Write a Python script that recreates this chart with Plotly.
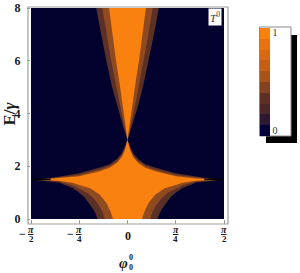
import numpy as np
import plotly.graph_objects as go

PI = np.pi

# ---------------- data ----------------
# upper cone (half-widths in phi, symmetric about 0)
cone_E      = [3.0, 3.5, 4.15, 5.0, 6.06, 7.0, 8.0]
cone_fringe = [0.0, 0.07, 0.155, 0.25, 0.35, 0.43, 0.51]
cone_mid    = [0.0, 0.05, 0.11, 0.18, 0.27, 0.34, 0.41]
cone_core   = [0.0, 0.03, 0.065, 0.12, 0.19, 0.245, 0.30]

# lower star, left half, upper boundary (from tip outwards)
star_up_phi    = [0.0, -0.04, -0.09, -0.17, -0.29, -0.45, -0.785, -1.12, -1.35, -1.571]
star_up_fringe = [3.0, 2.76, 2.50, 2.28, 2.08, 1.95, 1.73, 1.60, 1.53, 1.50]
star_up_mid    = [3.0, 2.70, 2.43, 2.20, 2.01, 1.88, 1.67, 1.57, 1.52, 1.50]
star_up_core   = [3.0, 2.63, 2.36, 2.13, 1.94, 1.81, 1.62, 1.54, 1.51, 1.50]

# lower star, left half, lower boundary (from phi=-pi/2 down to E=0)
star_lo_fringe_phi = [-1.571, -1.12, -0.90, -0.785, -0.70, -0.63, -0.56, -0.51, -0.49]
star_lo_fringe_E   = [1.50, 1.38, 1.18, 1.00, 0.82, 0.62, 0.38, 0.16, 0.0]
star_lo_mid_phi    = [-1.571, -1.12, -0.90, -0.785, -0.66, -0.55, -0.46, -0.40, -0.37]
star_lo_mid_E      = [1.50, 1.42, 1.28, 1.16, 1.00, 0.78, 0.50, 0.22, 0.0]
star_lo_core_phi   = [-1.571, -1.12, -0.90, -0.785, -0.60, -0.45, -0.34, -0.27, -0.235]
star_lo_core_E     = [1.50, 1.45, 1.37, 1.30, 1.16, 0.92, 0.60, 0.25, 0.0]

# thin black line at E = 1.5 near the edges
edge_line_phi = [1.25, 1.571]
edge_line_E = 1.5

# colour levels (0 .. 1 in 10 bands)
level_colors = ["#03013a", "#2c1832", "#4c2728", "#5e3024", "#83431e",
                "#a8531a", "#c45f15", "#d86812", "#e87210", "#fb810d"]

# axis ticks
y_ticks = [0, 2, 4, 6, 8]
x_ticks = [-PI / 2, -PI / 4, 0, PI / 4, PI / 2]
x_tick_num = ["π", "π", "0", "π", "π"]
x_tick_den = ["2", "4", "", "4", "2"]
x_tick_sign = ["−", "−", "", "", ""]

# ---------------- styling ----------------
BG = "#03012e"
C_FRINGE = "#5b3026"
C_MID = "#8f4a1f"
C_CORE = "#f9810f"
FONT = "Liberation Serif"

L, R, T, B = 31, 76, 8, 54
W, H = 300, 273
PW, PH = W - L - R, H - T - B


def px(xp):
    return (xp - L) / PW


def py(yp):
    return (H - B - yp) / PH


def cone_poly(w):
    xs = [-v for v in w[::-1]] + list(w[1:])
    ys = list(cone_E[::-1]) + list(cone_E[1:])
    return xs, ys


def star_poly(up_E, lo_phi, lo_E):
    xs = list(star_up_phi) + list(lo_phi[1:]) + [-v for v in lo_phi[::-1]][:-1] + [-v for v in star_up_phi[::-1]]
    ys = list(up_E) + list(lo_E[1:]) + list(lo_E[::-1])[:-1] + list(up_E[::-1])
    return xs, ys


fig = go.Figure()


def add_poly(xs, ys, color):
    fig.add_trace(go.Scatter(x=xs, y=ys, mode="lines", fill="toself",
                             fillcolor=color, line=dict(width=0, color=color),
                             hoverinfo="skip", showlegend=False))


for wc, upE, lphi, lE, col in [
    (cone_fringe, star_up_fringe, star_lo_fringe_phi, star_lo_fringe_E, C_FRINGE),
    (cone_mid, star_up_mid, star_lo_mid_phi, star_lo_mid_E, C_MID),
    (cone_core, star_up_core, star_lo_core_phi, star_lo_core_E, C_CORE),
]:
    add_poly(*cone_poly(wc), col)
    add_poly(*star_poly(upE, lphi, lE), col)

for sgn in (-1, 1):
    fig.add_trace(go.Scatter(x=[sgn * v for v in edge_line_phi], y=[edge_line_E] * 2,
                             mode="lines", line=dict(color="black", width=1.5),
                             hoverinfo="skip", showlegend=False))

# colour bar (dummy trace)
cs = []
n = len(level_colors)
for i, c in enumerate(level_colors):
    cs.append([i / n, c])
    cs.append([(i + 1) / n, c])
fig.add_trace(go.Scatter(
    x=[0], y=[-10], mode="markers", hoverinfo="skip", showlegend=False,
    marker=dict(size=1, color=[0.5], cmin=0, cmax=1, colorscale=cs, showscale=True,
                colorbar=dict(x=px(260), xanchor="left", y=py(27.5), yanchor="top",
                              lenmode="pixels", len=107.5, thickness=10,
                              xpad=0, ypad=0, outlinewidth=0,
                              tickvals=[0.05, 0.95], ticktext=["0", "1"], ticks="",
                              tickfont=dict(family=FONT, size=10, color="#333"),
                              bgcolor="rgba(0,0,0,0)", borderwidth=0))))

shapes = [
    # plot frame
    dict(type="rect", xref="paper", yref="paper", x0=px(28), x1=px(228), y0=py(224), y1=py(7),
         line=dict(color="#a0a0a0", width=1.2), layer="above"),
    # colour bar shadow and box
    dict(type="rect", xref="paper", yref="paper", x0=px(266), x1=px(297), y0=py(143), y1=py(35),
         fillcolor="black", line=dict(width=0), layer="below"),
    dict(type="rect", xref="paper", yref="paper", x0=px(259.5), x1=px(291), y0=py(136), y1=py(27),
         fillcolor="white", line=dict(color="#888", width=1), layer="below"),
]

ann = []
for xv, num, den, sg in zip(x_ticks, x_tick_num, x_tick_den, x_tick_sign):
    if den:
        ann.append(dict(x=xv, xref="x", y=0, yref="paper", yshift=219 - 229.5,
                        text="<b><i><u>" + num + "</u></i></b>", showarrow=False,
                        font=dict(family=FONT, size=10, color="#1a1a1a"), xanchor="center", yanchor="middle"))
        ann.append(dict(x=xv, xref="x", y=0, yref="paper", yshift=219 - 238.5,
                        text="<b>" + den + "</b>", showarrow=False,
                        font=dict(family=FONT, size=9, color="#1a1a1a"), xanchor="center", yanchor="middle"))
    else:
        ann.append(dict(x=xv, xref="x", y=0, yref="paper", yshift=219 - 236,
                        text="<b>" + num + "</b>", showarrow=False,
                        font=dict(family=FONT, size=12, color="#1a1a1a"), xanchor="center", yanchor="middle"))
    if sg:
        ann.append(dict(x=xv, xref="x", y=0, yref="paper", yshift=219 - 233.5, xshift=-9,
                        text="<b>" + sg + "</b>", showarrow=False,
                        font=dict(family=FONT, size=12, color="#1a1a1a"), xanchor="center", yanchor="middle"))

# axis titles
ann.append(dict(x=px(123), xref="paper", y=py(263), yref="paper", text="<b><i>φ</i></b>",
                showarrow=False, font=dict(family=FONT, size=15, color="#1a1a1a"),
                xanchor="center", yanchor="middle"))
ann.append(dict(x=px(131), xref="paper", y=py(257.5), yref="paper", text="<b>0</b>",
                showarrow=False, font=dict(family=FONT, size=8, color="#1a1a1a"),
                xanchor="center", yanchor="middle"))
ann.append(dict(x=px(131), xref="paper", y=py(267), yref="paper", text="<b>0</b>",
                showarrow=False, font=dict(family=FONT, size=8, color="#1a1a1a"),
                xanchor="center", yanchor="middle"))
ann.append(dict(x=px(9), xref="paper", y=py(113.5), yref="paper", text="<b>E/<i>γ</i></b>",
                textangle=-90, showarrow=False, font=dict(family=FONT, size=17, color="#1a1a1a"),
                xanchor="center", yanchor="middle"))
# T^0 label
ann.append(dict(x=px(215), xref="paper", y=py(16.5), yref="paper", text="<i>T</i><sup>0</sup>",
                showarrow=False, font=dict(family=FONT, size=11, color="#333"),
                bgcolor="white", borderpad=1, xanchor="center", yanchor="middle"))

fig.update_layout(
    width=W, height=H, margin=dict(l=L, r=R, t=T, b=B, autoexpand=False),
    paper_bgcolor="white", plot_bgcolor=BG,
    shapes=shapes, annotations=ann, showlegend=False,
    xaxis=dict(range=[-PI / 2, PI / 2], showgrid=False, zeroline=False, automargin=False,
               tickvals=x_ticks, showticklabels=False, ticks="outside", ticklen=4,
               tickcolor="#999", showline=False),
    yaxis=dict(range=[0, 8], showgrid=False, zeroline=False, automargin=False,
               tickvals=y_ticks, ticks="outside", ticklen=3, tickcolor="#999",
               ticklabelstandoff=4,
               tickfont=dict(family=FONT, size=12, color="#1a1a1a", weight="bold"),
               showline=False),
)

fig.write_html("out.html", config={"displayModeBar": False},
               post_script="document.body.style.margin='0px';document.body.style.overflow='hidden';")
